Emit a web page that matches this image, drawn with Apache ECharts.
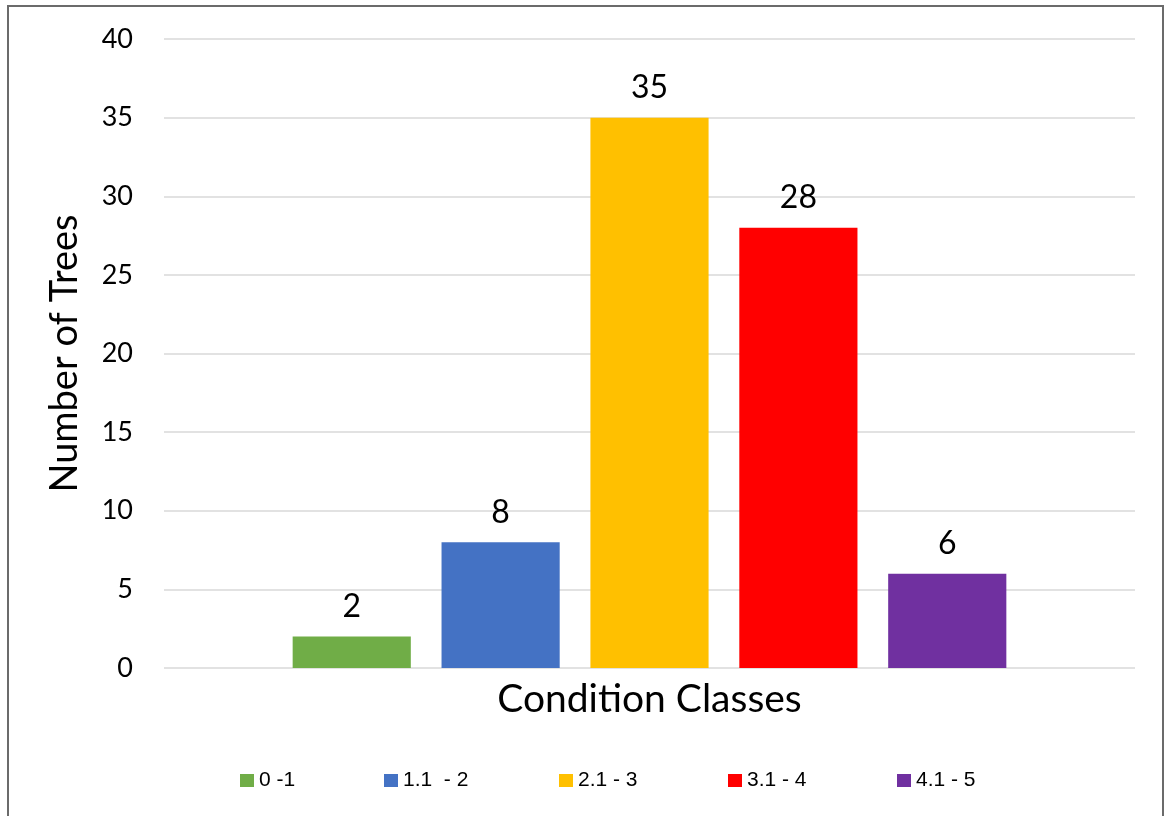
<!DOCTYPE html>
<html><head><meta charset="utf-8">
<script src="https://cdn.jsdelivr.net/npm/echarts@6/dist/echarts.min.js"></script>
<style>html,body{margin:0;padding:0;background:#fff}#c{width:1165px;height:816px}</style>
</head><body><div id="c"></div>
<script>
const seriesNames = ['0 -1', '1.1  - 2', '2.1 - 3', '3.1 - 4', '4.1 - 5'];
const seriesValues = [2, 8, 35, 28, 6];
const seriesColors = ['#70ad47', '#4472c4', '#ffc000', '#ff0000', '#7030a0'];
const categories = [''];
const yTicks = {min: 0, max: 40, interval: 5};
const legendLefts = [240, 384, 559, 728, 897];

const chart = echarts.init(document.getElementById('c'));
const font = 'Lato, "Open Sans", sans-serif';
chart.setOption({
  animation: false,
  graphic: [{type: 'rect', shape: {x: 8, y: 6, width: 1155, height: 830}, style: {fill: 'none', stroke: '#6b6b6b', lineWidth: 2}}],
  grid: {left: 164, right: 30, top: 39, bottom: 148},
  legend: seriesNames.map((n, i) => ({
    top: 765, left: legendLefts[i] - 5,
    itemWidth: 14, itemHeight: 13, itemGap: 0,
    icon: 'rect',
    textStyle: {fontFamily: '"Liberation Sans", Arial, sans-serif', fontSize: 21, color: '#000', padding: [0, 0, 0, 0]},
    data: [n]
  })),
  xAxis: {
    type: 'category', data: categories,
    axisLine: {show: false}, axisTick: {show: false}, axisLabel: {show: false},
    name: 'Condition Classes', nameLocation: 'middle', nameGap: 12,
    nameTextStyle: {fontFamily: font, fontSize: 39, color: '#000', verticalAlign: 'top'}
  },
  yAxis: {
    type: 'value', min: yTicks.min, max: yTicks.max, interval: yTicks.interval,
    axisLine: {show: false}, axisTick: {show: false},
    axisLabel: {fontFamily: font, fontSize: 27, color: '#000', margin: 31},
    splitLine: {lineStyle: {color: '#d9d9d9', width: 1.5}},
    name: 'Number of Trees', nameLocation: 'middle', nameGap: 80,
    nameTextStyle: {fontFamily: font, fontSize: 38, color: '#000'}
  },
  series: seriesNames.map((n, i) => ({
    type: 'bar', name: n, data: [seriesValues[i]],
    itemStyle: {color: seriesColors[i]},
    barGap: '26%', barCategoryGap: '26.5%',
    label: {show: true, position: 'top', distance: 14, fontFamily: font, fontSize: 32, color: '#000'}
  }))
});
</script></body></html>
